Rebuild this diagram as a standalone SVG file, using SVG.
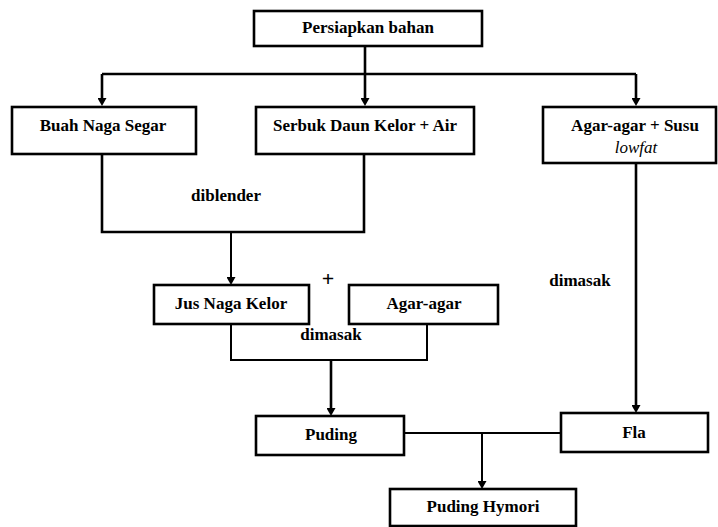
<svg xmlns="http://www.w3.org/2000/svg" width="718" height="527" viewBox="0 0 718 527" font-family="'Liberation Serif', 'DejaVu Serif', serif">
<defs>
<marker id="arr" markerUnits="userSpaceOnUse" markerWidth="9" markerHeight="9" refX="1" refY="4.5" orient="auto">
<path d="M0,0 L8,4.5 L0,9 z" fill="#000"/>
</marker>
<style>
.box{fill:#fff;stroke:#000;stroke-width:2.6}
.ln{fill:none;stroke:#000;stroke-width:2.6}
.thin{fill:none;stroke:#000;stroke-width:2}
text{font-family:'Liberation Serif','DejaVu Serif',serif;font-size:17px;font-weight:bold;fill:#000;text-anchor:middle}
.it{font-style:italic;font-weight:normal}
.plus{font-size:22px}
</style>
</defs>
<rect width="718" height="527" fill="#fff"/>
<g id="connectors">
<path class="ln" d="M365,46 V74"/>
<path class="ln" d="M102,74 H636"/>
<path class="ln" d="M102,74 V99" marker-end="url(#arr)"/>
<path class="ln" d="M365,74 V99" marker-end="url(#arr)"/>
<path class="ln" d="M636,74 V99" marker-end="url(#arr)"/>
<path class="ln" d="M102,154 V232 H364 V154"/>
<path class="thin" d="M231,232 V278" marker-end="url(#arr)"/>
<path class="thin" d="M231,324 V360 H427 V324"/>
<path class="ln" d="M331,360 V409" marker-end="url(#arr)"/>
<path class="ln" d="M636,163 V406" marker-end="url(#arr)"/>
<path class="thin" d="M404,433 H561"/>
<path class="thin" d="M482,433 V482" marker-end="url(#arr)"/>
</g>
<g id="persiapkan"><rect class="box" x="254" y="11" width="228" height="35"/><text x="368" y="33">Persiapkan bahan</text></g>
<g id="buah"><rect class="box" x="12" y="107" width="184" height="47"/><text x="103" y="131">Buah Naga Segar</text></g>
<g id="serbuk"><rect class="box" x="256" y="107" width="218" height="47"/><text x="365" y="131">Serbuk Daun Kelor + Air</text></g>
<g id="agarsusu"><rect class="box" x="543" y="107" width="173" height="56"/><text x="635" y="131">Agar-agar + Susu</text><text class="it" x="636" y="153">lowfat</text></g>
<g id="lbl-diblender"><text x="226" y="201">diblender</text></g>
<g id="plus"><text class="plus" x="328" y="286">+</text></g>
<g id="jus"><rect class="box" x="154" y="285" width="155" height="39"/><text x="231" y="309">Jus Naga Kelor</text></g>
<g id="agar"><rect class="box" x="349" y="285" width="149" height="39"/><text x="424" y="309">Agar-agar</text></g>
<g id="lbl-dimasak1"><text x="331" y="340">dimasak</text></g>
<g id="lbl-dimasak2"><text x="580" y="286">dimasak</text></g>
<g id="puding"><rect class="box" x="256" y="416" width="148" height="39"/><text x="331" y="440">Puding</text></g>
<g id="fla"><rect class="box" x="561" y="413" width="147" height="39"/><text x="634" y="438">Fla</text></g>
<g id="hymori"><rect class="box" x="390" y="489" width="186" height="37"/><text x="483" y="512">Puding Hymori</text></g>
</svg>
